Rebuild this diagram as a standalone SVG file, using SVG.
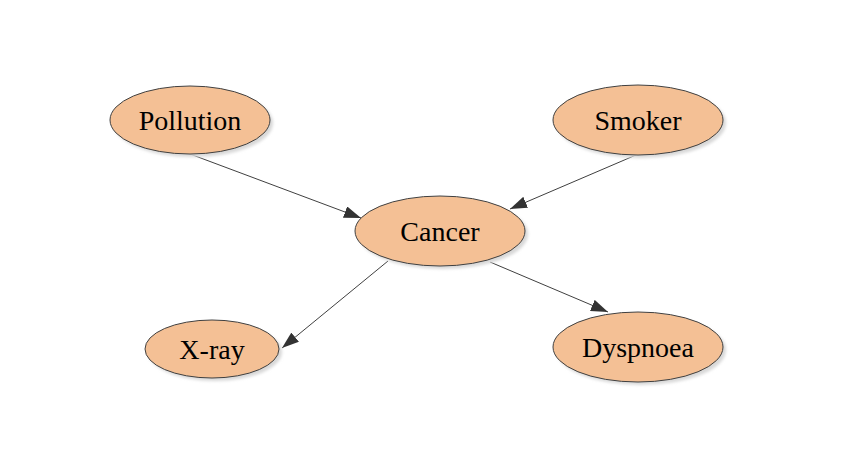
<svg xmlns="http://www.w3.org/2000/svg" width="863" height="470" viewBox="0 0 863 470">
<style>
.node ellipse.body{fill:#F4C095;stroke:#404040;stroke-width:1}
.node ellipse.shadow{fill:#d8d8d8;filter:url(#blur)}
.node text{font-family:"Liberation Serif","Times New Roman",serif;font-size:28px;fill:#000;text-anchor:middle;dominant-baseline:central}
.edge{stroke:#404040;stroke-width:1;fill:none;marker-end:url(#arr)}
</style>
<defs>
<filter id="blur" x="-20%" y="-20%" width="140%" height="140%"><feGaussianBlur stdDeviation="1.5"/></filter>
<marker id="arr" markerWidth="18" markerHeight="12" refX="17" refY="6" orient="auto" markerUnits="userSpaceOnUse">
<path d="M0,0 L17,6 L0,12 Z" fill="#333"/>
</marker>
</defs>
<rect width="863" height="470" fill="#fff"/>
<g id="connectors">
<line class="edge" x1="190" y1="154" x2="361" y2="218"/>
<line class="edge" x1="636" y1="155" x2="510" y2="209"/>
<line class="edge" x1="388" y1="261" x2="282" y2="348"/>
<line class="edge" x1="490" y1="262" x2="608" y2="312"/>
</g>
<g id="pollution" class="node">
<ellipse class="shadow" cx="193" cy="123" rx="80" ry="34"/>
<ellipse class="body" cx="190" cy="120" rx="80" ry="34"/>
<text x="190" y="120">Pollution</text>
</g>
<g id="smoker" class="node">
<ellipse class="shadow" cx="641" cy="123" rx="85" ry="35"/>
<ellipse class="body" cx="638" cy="120" rx="85" ry="35"/>
<text x="638" y="120">Smoker</text>
</g>
<g id="cancer" class="node">
<ellipse class="shadow" cx="443" cy="234" rx="85" ry="35"/>
<ellipse class="body" cx="440" cy="231" rx="85" ry="35"/>
<text x="440" y="231">Cancer</text>
</g>
<g id="xray" class="node">
<ellipse class="shadow" cx="215" cy="352" rx="67" ry="29"/>
<ellipse class="body" cx="212" cy="349" rx="67" ry="29"/>
<text x="212" y="349">X-ray</text>
</g>
<g id="dyspnoea" class="node">
<ellipse class="shadow" cx="641" cy="350" rx="85" ry="35"/>
<ellipse class="body" cx="638" cy="347" rx="85" ry="35"/>
<text x="638" y="347">Dyspnoea</text>
</g>
</svg>
